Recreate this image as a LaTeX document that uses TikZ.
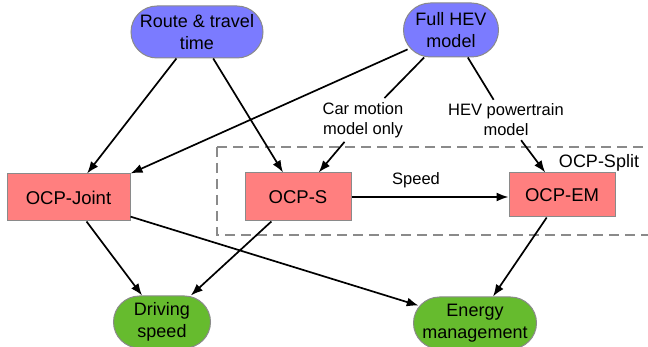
\documentclass[tikz,border=0pt]{standalone}
\usepackage{fontspec}
\setmainfont{Liberation Sans}
\usetikzlibrary{arrows.meta}

\definecolor{inblue}{HTML}{7B7BFF}
\definecolor{ocpred}{HTML}{FF7F7F}
\definecolor{outgreen}{HTML}{66BB2E}
\definecolor{rimgray}{HTML}{8A8A8A}

\begin{document}
\begin{tikzpicture}[x=1pt, y=-1pt,
  pill/.style={rectangle, rounded corners=26pt, draw=rimgray, line width=1pt, align=center,
    inner xsep=0pt, minimum height=52pt, font=\fontsize{18}{22}\selectfont},
  input/.style={pill, fill=inblue},
  output/.style={pill, fill=outgreen},
  ocp/.style={rectangle, draw=rimgray, line width=1pt, fill=ocpred,
    font=\fontsize{18.5}{22}\selectfont},
  lbl/.style={align=center, inner sep=4pt, font=\fontsize{16.5}{20}\selectfont},
  ln/.style={line width=1.7pt},
  arr/.style={ln, -{Latex[length=12pt,width=9pt]}},
  splitbox/.style={draw=rimgray, line width=1.5pt, dash pattern=on 10pt off 6pt}]

  \useasboundingbox (0,0) rectangle (648,347);

  \draw[splitbox] (217,147) rectangle (662,235);
  \node[font=\fontsize{18}{22}\selectfont] (splitlbl) at (599,163) {OCP-Split};

  \node[input, minimum width=132pt] (route) at (197,32) {Route \& travel\\time};
  \node[input, minimum width=95pt, minimum height=54pt, rounded corners=27pt] (hev) at (451,30) {Full HEV\\model};

  \node[lbl] (carlbl) at (363,120) {Car motion\\model only};
  \node[lbl] (pwrlbl) at (506,120) {HEV powertrain\\model};

  \node[ocp, minimum width=123pt, minimum height=47pt] (joint) at (68.5,197.5) {OCP-Joint};
  \node[ocp, minimum width=106pt, minimum height=48pt] (ocps) at (298,197) {OCP-S};
  \node[ocp, minimum width=106pt, minimum height=44pt] (ocpem) at (562,195) {OCP-EM};
  \node[lbl] (speedlbl) at (416,180) {Speed};

  \node[output, minimum width=97pt] (drive) at (162,322) {Driving\\speed};
  \node[output, minimum width=123pt] (energy) at (475,323) {Energy\\management};

  \draw[arr] (route) -- (joint);
  \draw[arr] (route) -- (ocps);
  \draw[arr, shorten <=-5pt] (hev) -- (joint.north east);
  \draw[ln] (hev) -- (carlbl);
  \draw[arr] (carlbl) -- (ocps);
  \draw[ln] (hev) -- (pwrlbl);
  \draw[arr] (pwrlbl) -- (ocpem);
  \draw[arr] (ocps) -- (ocps -| ocpem.west);

  \draw[arr] (joint) -- (drive);
  \draw[arr] (ocps) -- (drive);
  \draw[arr, shorten >=-6pt] (joint) -- (energy);
  \draw[arr] (ocpem) -- (energy);
\end{tikzpicture}
\end{document}
